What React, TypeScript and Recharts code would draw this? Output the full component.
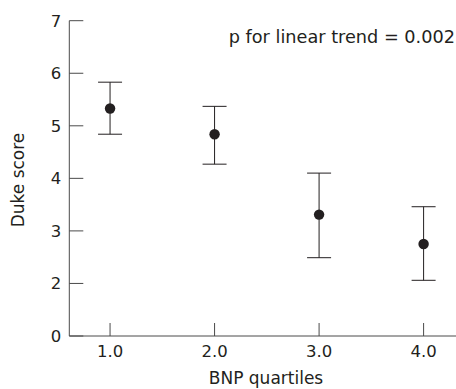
import React from 'react';
import { ScatterChart, Scatter, XAxis, YAxis, ErrorBar, Customized } from 'recharts';

const quartiles = [1, 2, 3, 4];
const dukeMean = [5.33, 4.84, 3.31, 2.75];
const dukeUpper = [5.83, 5.37, 4.1, 3.46];
const dukeLower = [4.84, 4.27, 2.49, 2.06];

const xTicks = [1, 2, 3, 4];
const xTickLabels = ['1.0', '2.0', '3.0', '4.0'];
const yTicks = [1, 2, 3, 4, 5, 6, 7];
const yTickLabels = ['0', '2', '3', '4', '5', '6', '7'];

const annotation = 'p for linear trend = 0.002';
const xTitle = 'BNP quartiles';
const yTitle = 'Duke score';

const data = quartiles.map((q, i) => ({
  x: q,
  y: dukeMean[i],
  err: [dukeMean[i] - dukeLower[i], dukeUpper[i] - dukeMean[i]],
}));

const INK = '#231f20';
const AXIS = '#4a4a4a';
const FONT = 'DejaVu Sans';

const YTick = (props: any) => {
  const { x, y, payload } = props;
  const idx = yTicks.indexOf(payload.value);
  const ax = x + 8;
  return (
    <g>
      <line x1={ax} y1={y} x2={ax + 14} y2={y} stroke={AXIS} strokeWidth={1} />
      <text x={x} y={y} dy="0.36em" textAnchor="end" fill={INK} fontSize={16.5} fontFamily={FONT}>
        {idx >= 0 ? yTickLabels[idx] : payload.value}
      </text>
    </g>
  );
};

const XTick = (props: any) => {
  const { x, y, payload } = props;
  const idx = xTicks.indexOf(payload.value);
  const ay = y - 9;
  return (
    <g>
      <line x1={x} y1={ay} x2={x} y2={ay - 13} stroke={AXIS} strokeWidth={1} />
      <text x={x} y={y} dy="0.71em" textAnchor="middle" fill={INK} fontSize={16.5} fontFamily={FONT}>
        {idx >= 0 ? xTickLabels[idx] : payload.value}
      </text>
    </g>
  );
};

const Dot = (props: any) => {
  const { cx, cy } = props;
  return <circle cx={cx} cy={cy} r={5.2} fill={INK} />;
};

const Texts = () => (
  <g fontFamily={FONT} fill={INK}>
    <text x={455} y={43} textAnchor="end" fontSize={17.7}>{annotation}</text>
    <text x={266} y={384} textAnchor="middle" fontSize={17}>{xTitle}</text>
    <text x={24} y={180} textAnchor="middle" fontSize={17} transform="rotate(-90 24 180)">{yTitle}</text>
  </g>
);

export default function App() {
  return (
    <div style={{ position: 'absolute', left: 0, top: 0, background: '#fff' }}>
      <ScatterChart width={456} height={389} margin={{ top: 20.7, right: 0, left: 0, bottom: 0 }}>
        <XAxis
          type="number"
          dataKey="x"
          domain={[0.61, 4.31]}
          ticks={xTicks}
          allowDataOverflow
          height={53}
          tickSize={0}
          tickMargin={9}
          tickLine={false}
          axisLine={{ stroke: AXIS, strokeWidth: 1 }}
          tick={<XTick />}
        />
        <YAxis
          type="number"
          dataKey="y"
          domain={[1, 7]}
          ticks={yTicks}
          allowDataOverflow
          width={69.3}
          tickSize={0}
          tickMargin={8}
          tickLine={false}
          axisLine={{ stroke: AXIS, strokeWidth: 1 }}
          tick={<YTick />}
        />
        <Scatter data={data} shape={<Dot />} isAnimationActive={false}>
          <ErrorBar dataKey="err" direction="y" width={12} stroke={INK} strokeWidth={1} isAnimationActive={false} />
        </Scatter>
        <Customized component={Texts} />
      </ScatterChart>
    </div>
  );
}
